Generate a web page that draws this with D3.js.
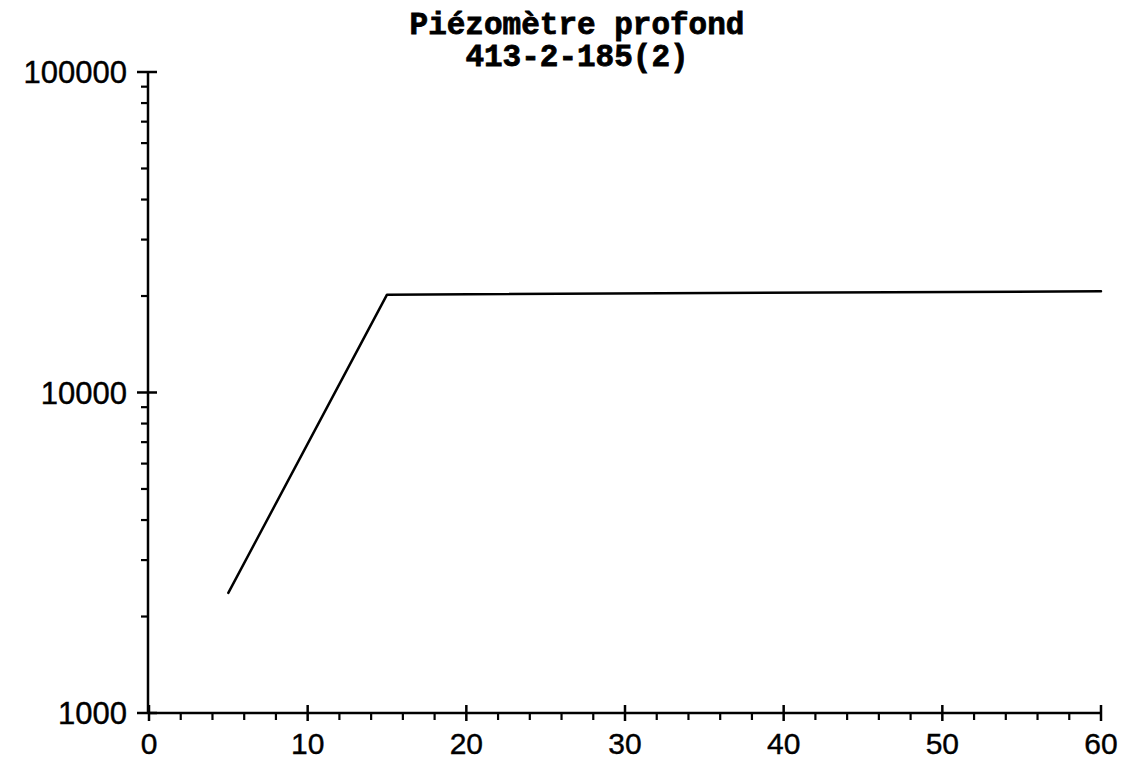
<!DOCTYPE html>
<html>
<head>
<meta charset="utf-8">
<script src="https://cdn.jsdelivr.net/npm/d3@7"></script>
<style>
  body { margin: 0; background: #fff; }
  svg { display: block; }
</style>
</head>
<body>
<script>
// values
var depth = [5, 15, 60];
var count = [2370, 20200, 20700];

var xTicks = [0, 10, 20, 30, 40, 50, 60];
var yTicks = [1000, 10000, 100000];
var titleLines = ["Piézomètre profond", "413-2-185(2)"];

var w = 1126, h = 759;
var svg = d3.select("body").append("svg").attr("width", w).attr("height", h);

var x = d3.scaleLinear().domain([0, 60]).range([149, 1101]);
var y = d3.scaleLog().domain([1000, 100000]).range([713, 72]);

var ink = "#000";

// axis lines
svg.append("line")
  .attr("x1", x(0)).attr("x2", x(60)).attr("y1", y(1000)).attr("y2", y(1000))
  .attr("stroke", ink).attr("stroke-width", 2.5);
svg.append("line")
  .attr("x1", x(0) - 1).attr("x2", x(0) - 1).attr("y1", y(100000)).attr("y2", y(1000))
  .attr("stroke", ink).attr("stroke-width", 2.5);

// x minor ticks every 2, below the axis only
var xMinor = d3.range(0, 61, 2).filter(function(d){ return d % 10 != 0; });
svg.selectAll("line.xminor").data(xMinor).enter().append("line")
  .attr("class", "xminor")
  .attr("x1", function(d){ return x(d); }).attr("x2", function(d){ return x(d); })
  .attr("y1", y(1000)).attr("y2", y(1000) + 7)
  .attr("stroke", ink).attr("stroke-width", 2.2);

// x major ticks crossing the axis
svg.selectAll("line.xmajor").data(xTicks).enter().append("line")
  .attr("class", "xmajor")
  .attr("x1", function(d){ return x(d); }).attr("x2", function(d){ return x(d); })
  .attr("y1", y(1000) - 8).attr("y2", y(1000) + 8)
  .attr("stroke", ink).attr("stroke-width", 2.5);

svg.selectAll("text.xlab").data(xTicks).enter().append("text")
  .attr("class", "xlab")
  .attr("x", function(d){ return x(d); })
  .attr("y", 754)
  .attr("text-anchor", "middle")
  .attr("font-family", "Liberation Sans, Arial, sans-serif")
  .attr("font-size", 30)
  .attr("fill", ink)
  .attr("stroke", ink)
  .attr("stroke-width", 0.4)
  .text(function(d){ return d; });

// y minor ticks 2..9 per decade, left side only
var yMinor = [];
[1000, 10000].forEach(function(dec){
  for (var k = 2; k <= 9; k++) yMinor.push(dec * k);
});
svg.selectAll("line.yminor").data(yMinor).enter().append("line")
  .attr("class", "yminor")
  .attr("x1", x(0) - 8).attr("x2", x(0) - 1)
  .attr("y1", function(d){ return y(d); }).attr("y2", function(d){ return y(d); })
  .attr("stroke", ink).attr("stroke-width", 2.2);

svg.selectAll("line.ymajor").data(yTicks).enter().append("line")
  .attr("class", "ymajor")
  .attr("x1", x(0) - 12).attr("x2", x(0) + 8)
  .attr("y1", function(d){ return y(d); }).attr("y2", function(d){ return y(d); })
  .attr("stroke", ink).attr("stroke-width", 2.5);

svg.selectAll("text.ylab").data(yTicks).enter().append("text")
  .attr("class", "ylab")
  .attr("x", 127)
  .attr("y", function(d){ return y(d); })
  .attr("dy", "0.36em")
  .attr("text-anchor", "end")
  .attr("font-family", "Liberation Sans, Arial, sans-serif")
  .attr("font-size", 31)
  .attr("fill", ink)
  .attr("stroke", ink)
  .attr("stroke-width", 0.4)
  .text(function(d){ return d; });

// data line
var pts = depth.map(function(d, i){ return [d, count[i]]; });
var line = d3.line()
  .x(function(d){ return x(d[0]); })
  .y(function(d){ return y(d[1]); });
svg.append("path")
  .datum(pts)
  .attr("d", line)
  .attr("fill", "none")
  .attr("stroke", ink)
  .attr("stroke-width", 2.5)
  .attr("stroke-linejoin", "round")
  .attr("stroke-linecap", "round");

// title
svg.selectAll("text.title").data(titleLines).enter().append("text")
  .attr("class", "title")
  .attr("x", 577)
  .attr("y", function(d, i){ return 34 + i * 32; })
  .attr("text-anchor", "middle")
  .attr("font-family", "Liberation Mono, Courier New, monospace")
  .attr("font-weight", "bold")
  .attr("font-size", 31)
  .attr("fill", ink)
  .attr("stroke", ink)
  .attr("stroke-width", 0.8)
  .text(function(d){ return d; });
</script>
</body>
</html>
